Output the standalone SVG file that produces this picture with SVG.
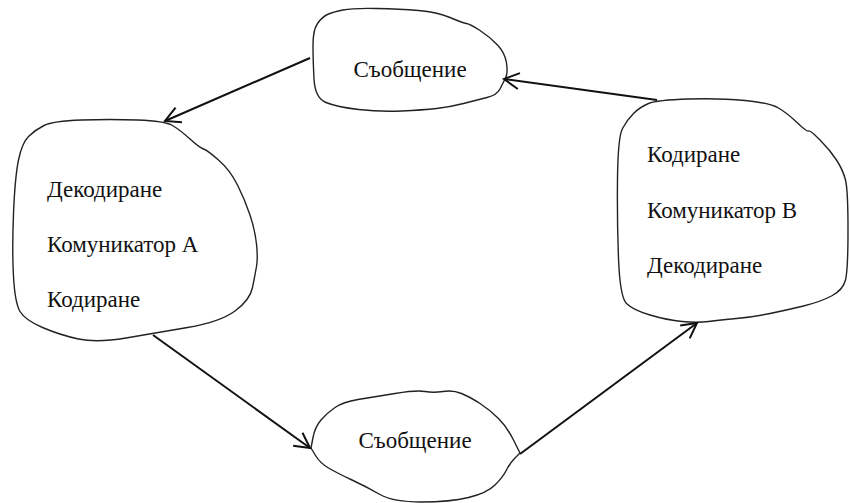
<svg xmlns="http://www.w3.org/2000/svg" width="850" height="503" viewBox="0 0 850 503">
<style>
.blob{fill:#fff;stroke:#222;stroke-width:1.4;stroke-linejoin:round}
.t{font-family:"Liberation Serif","Times New Roman",serif;font-size:23px;fill:#111}
.c{stroke:#111;stroke-width:2;fill:none}
</style>
<defs>
<marker id="arr" markerUnits="userSpaceOnUse" markerWidth="24" markerHeight="24" refX="18" refY="10" orient="auto" viewBox="0 0 24 20">
<path d="M3,2 L18,10 L3,18" fill="none" stroke="#111" stroke-width="2"/>
</marker>
</defs>
<rect width="850" height="503" fill="#fff"/>
<g id="msg-top">
<path class="blob" d="M327.5,14.5 Q333,12 343,10 Q353,8 376.5,8.5 Q400,9 418.5,10.5 Q437,12 450,17.5 Q463,23 466.5,23.5 Q470,24 480,30.5 Q490,37 497.5,45 Q505,53 506.5,63 Q508,73 505.5,78 Q503,83 500,89 Q497,95 487,97.5 Q477,100 463.5,103.5 Q450,107 436.5,108.5 Q423,110 401.5,111 Q380,112 358.5,109.5 Q337,107 326,102.5 Q315,98 314,79 Q313,60 313,45 Q313,30 317.5,23.5 Q322,17 327.5,14.5 Z"/>
<text class="t" x="410" y="77" text-anchor="middle">Съобщение</text>
</g>
<g id="comm-a">
<path class="blob" d="M81.5,120 Q110,119 137.5,120 Q165,121 172.5,125.5 Q180,130 190,139 Q200,148 203.5,149 Q207,150 218.5,160 Q230,170 237.5,185 Q245,200 250,215 Q255,230 256.5,244 Q258,258 256.5,266.5 Q255,275 252.5,287.5 Q250,300 235,311 Q220,322 187.5,327.5 Q155,333 126,338 Q97,343 78.5,339 Q60,335 42.5,327.5 Q25,320 20,311.5 Q15,303 13.5,276.5 Q12,250 13.5,213.5 Q15,177 18.5,160 Q22,143 28.5,136.5 Q35,130 44,125.5 Q53,121 81.5,120 Z"/>
<text class="t" x="47" y="197">Декодиране</text>
<text class="t" x="47" y="252">Комуникатор А</text>
<text class="t" x="47" y="307">Кодиране</text>
</g>
<g id="comm-b">
<path class="blob" d="M688.5,99 Q720,98 745,100.5 Q770,103 778.5,108 Q787,113 797,122.5 Q807,132 808.5,131 Q810,130 820,140 Q830,150 836.5,160 Q843,170 845.5,180 Q848,190 848,230 Q848,270 845.5,280 Q843,290 831.5,296 Q820,302 803.5,306 Q787,310 770,313.5 Q753,317 736.5,318.5 Q720,320 708.5,321.5 Q697,323 682,321.5 Q667,320 650,315 Q633,310 626.5,303.5 Q620,297 618.5,258.5 Q617,220 617.5,178.5 Q618,137 622.5,128.5 Q627,120 633.5,113.5 Q640,107 648.5,103.5 Q657,100 688.5,99 Z"/>
<text class="t" x="647" y="162">Кодиране</text>
<text class="t" x="647" y="218">Комуникатор В</text>
<text class="t" x="647" y="273">Декодиране</text>
</g>
<g id="msg-bottom">
<path class="blob" d="M311,448 L313,437.5 Q315,427 321,420 Q327,413 335,407.5 Q343,402 358,399.5 Q373,397 395,393.5 Q417,390 425,391.5 Q433,393 443,391.5 Q453,390 461.5,393.5 Q470,397 480,403.5 Q490,410 498.5,418.5 Q507,427 513.5,440 L520,453 L515,458 Q510,463 506.5,470 Q503,477 495,485 Q487,493 468.5,497.5 Q450,502 421.5,502 Q393,502 380,494.5 Q367,487 352,480 Q337,473 328.5,468 Q320,463 315.5,455.5 Z"/>
<text class="t" x="415" y="448" text-anchor="middle">Съобщение</text>
</g>
<g id="connectors">
<line class="c" x1="310" y1="58" x2="165" y2="121" marker-end="url(#arr)"/>
<line class="c" x1="657" y1="100" x2="504" y2="79" marker-end="url(#arr)"/>
<line class="c" x1="153" y1="335" x2="310" y2="448" marker-end="url(#arr)"/>
<line class="c" x1="520" y1="454" x2="697" y2="323" marker-end="url(#arr)"/>
</g>
</svg>
